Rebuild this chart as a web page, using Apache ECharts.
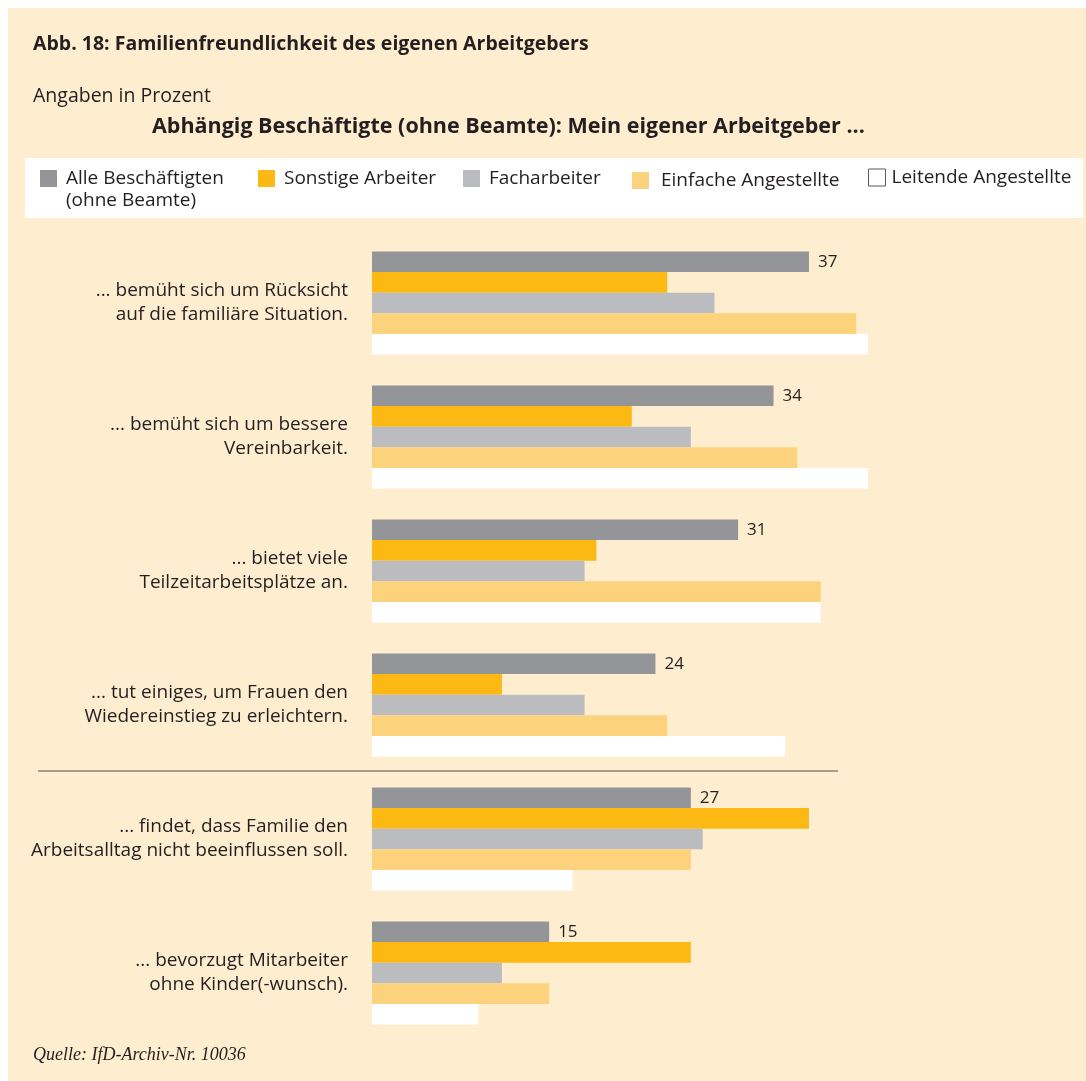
<!DOCTYPE html>
<html>
<head>
<meta charset="utf-8">
<script src="https://cdn.jsdelivr.net/npm/echarts@6/dist/echarts.min.js"></script>
<style>
  html, body { margin: 0; padding: 0; background: #fff; }
  #chart { width: 1086px; height: 1081px; }
</style>
</head>
<body>
<div id="chart"></div>
<script>
// Kategorien (von oben nach unten)
const categories = [
  '... bemüht sich um Rücksicht\nauf die familiäre Situation.',
  '... bemüht sich um bessere\nVereinbarkeit.',
  '... bietet viele\nTeilzeitarbeitsplätze an.',
  '... tut einiges, um Frauen den\nWiedereinstieg zu erleichtern.',
  '... findet, dass Familie den\nArbeitsalltag nicht beeinflussen soll.',
  '... bevorzugt Mitarbeiter\nohne Kinder(-wunsch).'
];
const seriesNames = ['Alle Beschäftigten', 'Sonstige Arbeiter', 'Facharbeiter', 'Einfache Angestellte', 'Leitende Angestellte'];
const alle = [37, 34, 31, 24, 27, 15];
const sonstige = [25, 22, 19, 11, 37, 27];
const facharbeiter = [29, 27, 18, 18, 28, 11];
const einfache = [41, 36, 38, 25, 27, 15];
const leitende = [42, 42, 38, 35, 17, 9];

const colors = ['#949598', '#fdb913', '#bbbcbf', '#fdd27c', '#ffffff'];
const values = [alle, sonstige, facharbeiter, einfache, leitende];
const font = '"Open Sans", "Noto Sans", sans-serif';
const textColor = '#231f20';

let myChart = echarts.init(document.getElementById('chart'));

// Legendenpositionen (Marker links, Abstand zum Text)
const legendLeft = [40, 258, 463, 632, 868];
const legendTop = [169, 169, 169, 171, 168];
const legendPad = [4, 4, 4, 7, 1];

myChart.setOption({
    backgroundColor: '#ffffff',
    textStyle: { fontFamily: font, color: textColor },
    animation: false,
    graphic: [
        { type: 'rect', z: -10, shape: { x: 8, y: 8, width: 1078, height: 1073 }, style: { fill: '#feeecf' } },
        { type: 'rect', z: -5, shape: { x: 25, y: 158, width: 1058, height: 60 }, style: { fill: '#ffffff' } },
        { type: 'text', left: 33, top: 34, style: { text: 'Abb. 18: Familienfreundlichkeit des eigenen Arbeitgebers', font: 'bold 19.5px ' + font, fill: textColor } },
        { type: 'text', left: 33, top: 86, style: { text: 'Angaben in Prozent', font: '19.5px ' + font, fill: textColor } },
        { type: 'text', left: 152, top: 116, style: { text: 'Abhängig Beschäftigte (ohne Beamte): Mein eigener Arbeitgeber ...', font: 'bold 21.5px ' + font, fill: textColor } },
        { type: 'text', left: 66, top: 191, style: { text: '(ohne Beamte)', font: '19px ' + font, fill: textColor } },
        { type: 'line', shape: { x1: 38, y1: 771, x2: 838, y2: 771 }, style: { stroke: '#8c8374', lineWidth: 1.5 } },
        { type: 'text', left: 33, top: 1046, style: { text: 'Quelle: IfD-Archiv-Nr. 10036', font: 'italic 18px "Liberation Serif", serif', fill: textColor } }
    ],
    legend: seriesNames.map((name, i) => ({
        left: legendLeft[i],
        top: legendTop[i],
        padding: 0,
        icon: 'rect',
        itemWidth: 17,
        itemHeight: 17,
        selectedMode: false,
        textStyle: { fontSize: 19, color: textColor, padding: [0, 0, 0, legendPad[i]] },
        data: [i === 4
            ? { name: name, itemStyle: { color: '#ffffff', borderColor: '#58595b', borderWidth: 1 } }
            : { name: name }]
    })),
    grid: {
        left: 372,
        top: 236,
        width: 590.5,
        height: 804,
        containLabel: false
    },
    xAxis: {
        type: 'value',
        min: 0,
        max: 50,
        show: false
    },
    yAxis: {
        type: 'category',
        inverse: true,
        data: categories,
        axisLine: { show: false },
        axisTick: { show: false },
        axisLabel: {
            margin: 24,
            fontSize: 19,
            lineHeight: 24,
            color: textColor,
            align: 'right'
        }
    },
    series: seriesNames.map((name, i) => ({
        name: name,
        type: 'bar',
        data: values[i],
        barGap: 0,
        barCategoryGap: '23%',
        itemStyle: { color: colors[i] },
        label: {
            show: i === 0,
            position: 'right',
            distance: 9,
            fontSize: 17,
            color: textColor,
            fontFamily: '"Open Sans", sans-serif'
        }
    }))
});
</script>
</body>
</html>
